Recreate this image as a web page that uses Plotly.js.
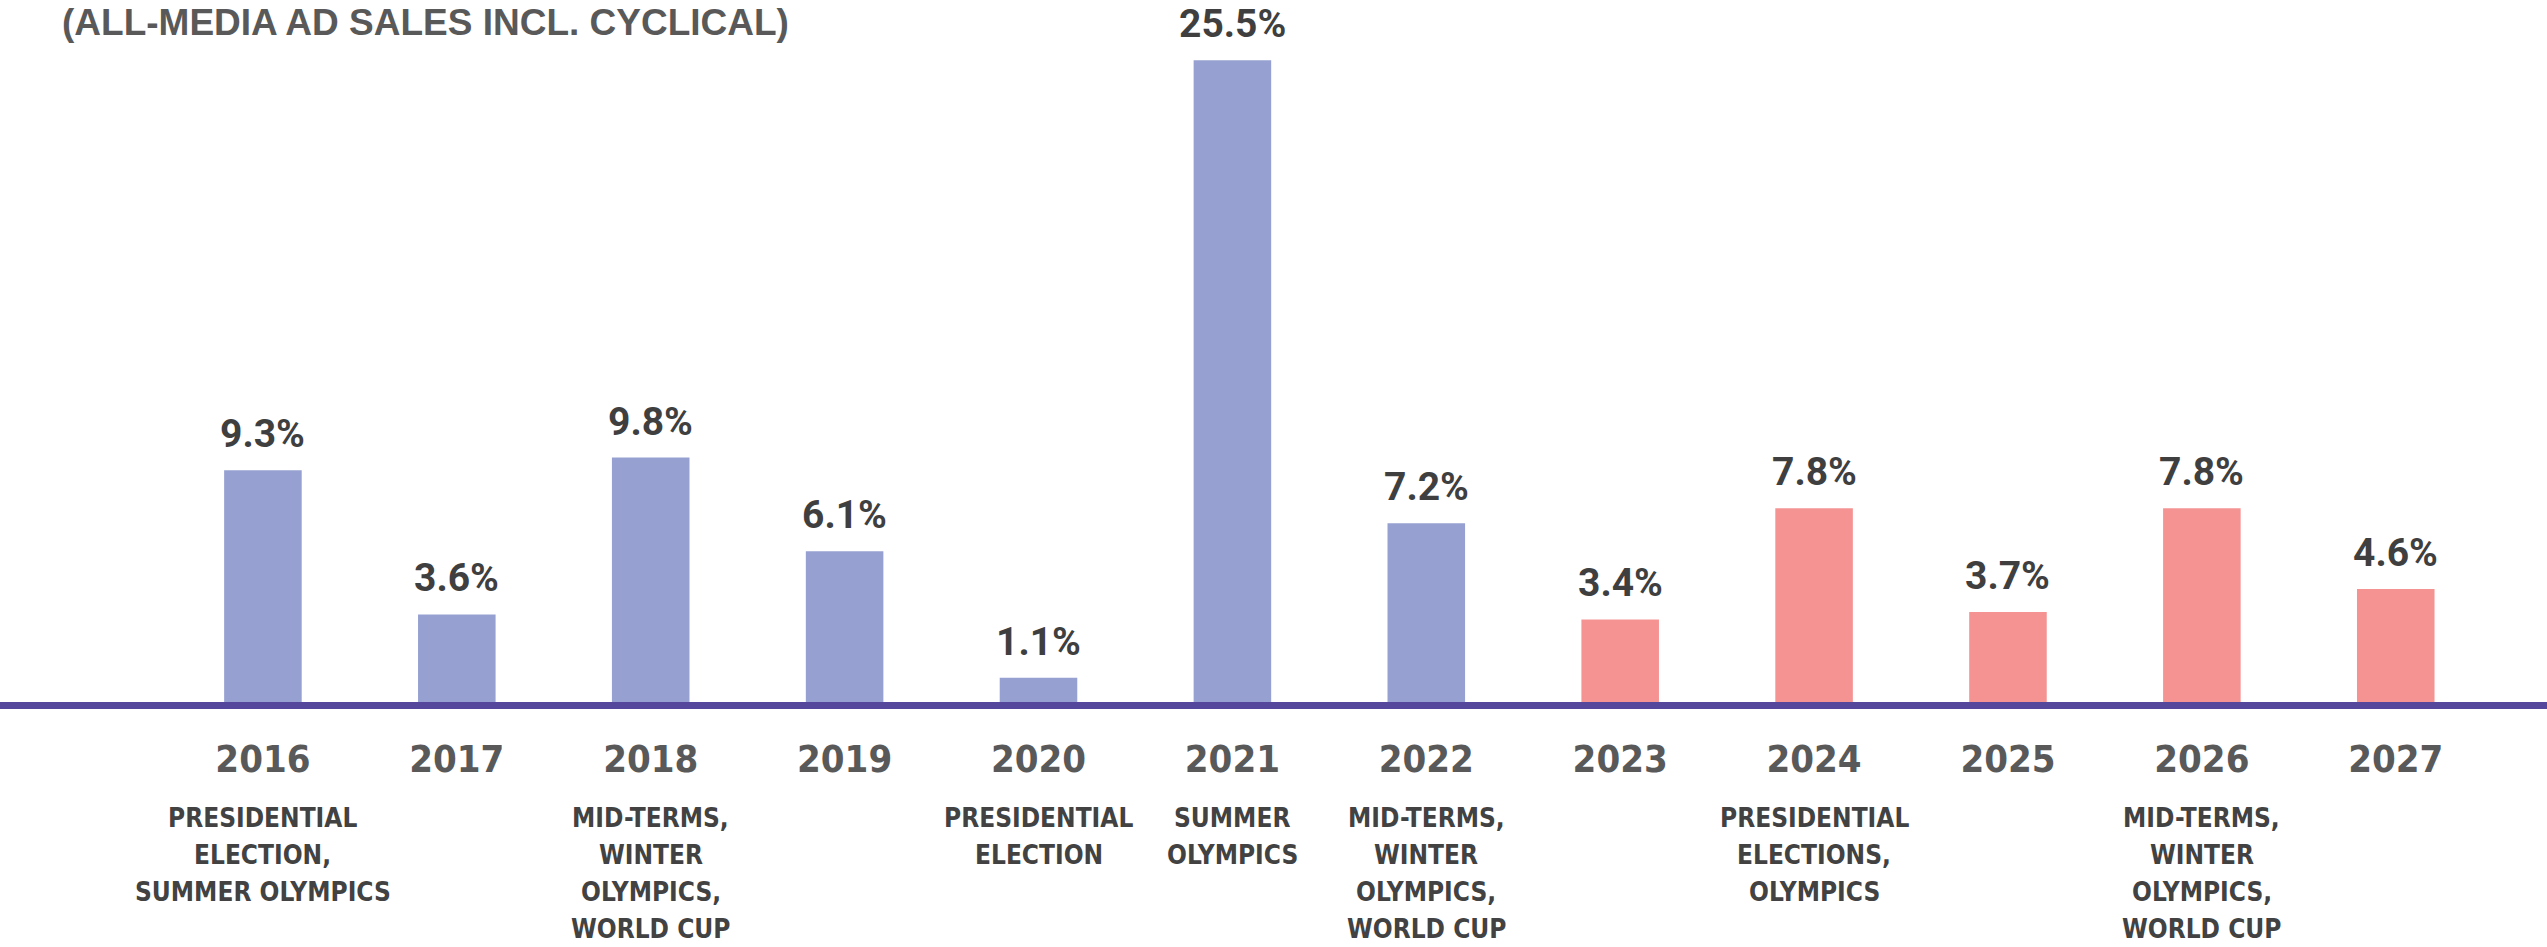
<!DOCTYPE html>
<html>
<head>
<meta charset="utf-8">
<script src="https://cdn.plot.ly/plotly-3.0.1.min.js"></script>
<style>html,body{margin:0;padding:0;background:#fff;}#chart{width:2547px;height:947px;}</style>
</head>
<body>
<div id="chart"></div>
<script>
const years = ['2016','2017','2018','2019','2020','2021','2022','2023','2024','2025','2026','2027'];
const growth = [9.3, 3.6, 9.8, 6.1, 1.1, 25.5, 7.2, 3.4, 7.8, 3.7, 7.8, 4.6];
const isForecast = [false,false,false,false,false,false,false,true,true,true,true,true];
const events = [
  'PRESIDENTIAL<br>ELECTION,<br>SUMMER OLYMPICS',
  '',
  'MID-TERMS,<br>WINTER<br>OLYMPICS,<br>WORLD CUP',
  '',
  'PRESIDENTIAL<br>ELECTION',
  'SUMMER<br>OLYMPICS',
  'MID-TERMS,<br>WINTER<br>OLYMPICS,<br>WORLD CUP',
  '',
  'PRESIDENTIAL<br>ELECTIONS,<br>OLYMPICS',
  '',
  'MID-TERMS,<br>WINTER<br>OLYMPICS,<br>WORLD CUP',
  ''
];
const titleText = '(ALL-MEDIA AD SALES INCL. CYCLICAL)';
const footerText = 'MAGNA';

const colorActual = '#96A1D1';
const colorForecast = '#F59393';
const axisColor = '#55479B';
const narrow = '"Liberation Sans Narrow", "DejaVu Sans Condensed", "DejaVu Sans", sans-serif';

const trace = {
  type: 'bar',
  x: years,
  y: growth,
  width: 0.40,
  marker: {color: isForecast.map(f => f ? colorForecast : colorActual), line: {width: 0}},
  hoverinfo: 'x+y'
};

const eventTop = 101;     // px below plot bottom to centre of first event line
const eventPitch = 37;    // px between event lines
const annotations = [];
years.forEach((yr, i) => {
  annotations.push({
    x: i, y: growth[i], xref: 'x', yref: 'y',
    text: growth[i].toFixed(1) + '%',
    showarrow: false, yanchor: 'bottom', xanchor: 'center', yshift: 11,
    font: {family: 'Roboto', size: 39, color: '#3F3F3F', weight: 700}
  });
  if (events[i]) {
    events[i].split('<br>').forEach((line, k) => {
      annotations.push({
        x: i, y: 0, xref: 'x', yref: 'paper',
        text: line,
        showarrow: false, yanchor: 'middle', xanchor: 'center',
        yshift: -(eventTop + k * eventPitch),
        font: {family: narrow, size: 26, color: '#424242', weight: 700, stretch: 'condensed'}
      });
    });
  }
});
annotations.push({
  x: 53/2547, y: 0, xref: 'paper', yref: 'paper',
  text: footerText, showarrow: false, xanchor: 'left', yanchor: 'top', yshift: -222,
  font: {family: 'Liberation Sans', size: 26, color: '#111111', weight: 700}
});

const layout = {
  width: 2547, height: 947,
  margin: {l: 0, r: 0, t: 0, b: 230},
  paper_bgcolor: '#ffffff', plot_bgcolor: '#ffffff',
  showlegend: false,
  title: {
    text: titleText, xref: 'container', yref: 'container',
    x: 62/2547, xanchor: 'left', y: 1 - 9/947, yanchor: 'top',
    font: {family: 'Liberation Sans', size: 37, color: '#595959', weight: 700}
  },
  xaxis: {
    type: 'category', range: [-1.356, 11.78], fixedrange: true,
    showgrid: false, zeroline: false, showline: false,
    ticks: 'outside', ticklen: 8, tickcolor: 'rgba(0,0,0,0)',
    tickfont: {family: narrow, size: 38, color: '#595959', weight: 700, stretch: 'condensed'},
    automargin: false
  },
  yaxis: {
    range: [-0.4545, 27.885], fixedrange: true,
    showgrid: false, zeroline: false, showline: false, showticklabels: false, ticks: ''
  },
  shapes: [{
    type: 'line', xref: 'paper', yref: 'y', x0: 0, x1: 1, y0: 0, y1: 0,
    line: {color: axisColor, width: 7}, layer: 'above'
  }],
  annotations: annotations
};

Plotly.newPlot('chart', [trace], layout, {displayModeBar: false, staticPlot: true});
</script>
</body>
</html>
